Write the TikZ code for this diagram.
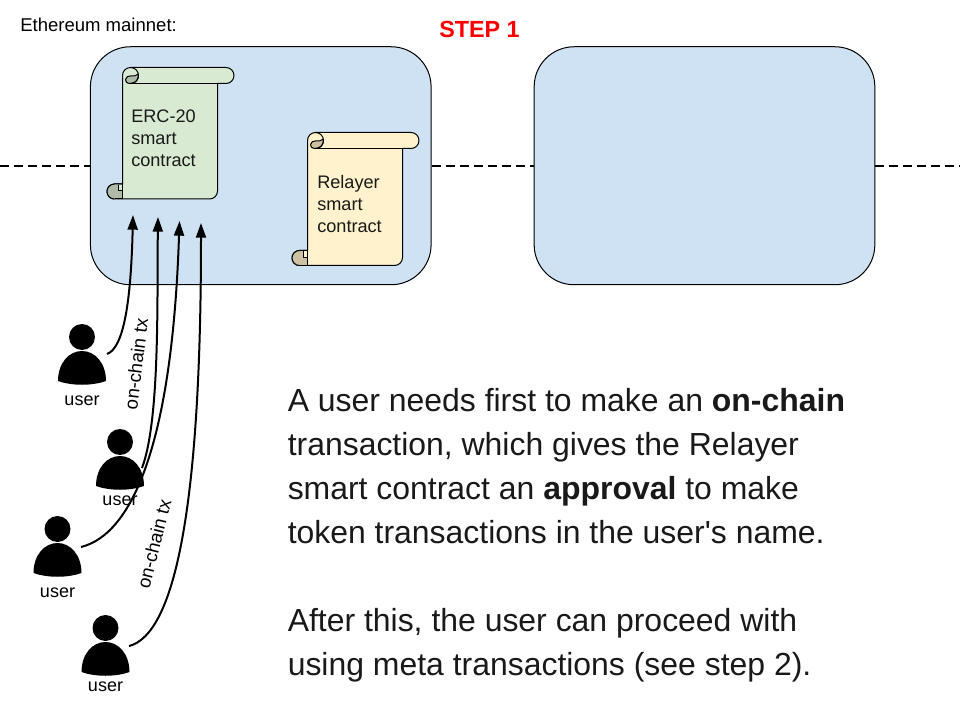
\documentclass[tikz,border=0pt]{standalone}
\usepackage{fontspec}
\setmainfont{Liberation Sans}
\newfontfamily\straightfont{Liberation Sans}
\usetikzlibrary{arrows.meta}
\definecolor{panel}{HTML}{CFE2F3}
\definecolor{ercfill}{HTML}{D9EAD3}
\definecolor{ercdark}{HTML}{AEBBA9}
\definecolor{relfill}{HTML}{FFF2CC}
\definecolor{reldark}{HTML}{CCC2A3}
\tikzset{
  panelbox/.style={draw=black,fill=panel,line width=0.75pt,rounded corners=30pt},
  scrollline/.style={draw=black,line width=0.75pt,line join=round},
  scrolltext/.style={font=\fontsize{13.6pt}{16.5pt}\selectfont,align=left,anchor=north west,inner sep=0pt,text=black!90},
  userlabel/.style={font=\fontsize{13.5pt}{15pt}\selectfont,inner sep=0pt,anchor=base},
  txlabel/.style={font=\fontsize{14pt}{15pt}\selectfont,inner sep=0pt},
  link/.style={draw=black,line width=1.5pt,-{Triangle[length=11pt,width=7.5pt]}},
  ethline/.style={draw=black,line width=1.5pt,dash pattern=on 6.75pt off 3.75pt},
}
% #1 left, #2 top, #3 bottom, #4 fill, #5 dark
\newcommand{\scrollshape}[5]{%
  \pgfmathsetmacro{\Lx}{#1}\pgfmathsetmacro{\Tx}{#2}\pgfmathsetmacro{\Bx}{#3}
  \path[scrollline,fill=#4]
    (\Lx+8,\Tx) -- (\Lx+103.5,\Tx) arc[start angle=-90,end angle=90,radius=8]
    -- (\Lx+95,\Tx+16) -- (\Lx+95,\Bx-8) arc[start angle=0,end angle=90,radius=8]
    -- (\Lx-8,\Bx) arc[start angle=90,end angle=270,radius=7.5]
    -- (\Lx,\Bx-15) -- (\Lx,\Tx+8) arc[start angle=180,end angle=270,radius=8] -- cycle;
  % top curl
  \path[scrollline,fill=#5] (\Lx+8,\Tx+16)
    .. controls (\Lx+4,\Tx+16) and (\Lx+2.5,\Tx+13.5) .. (\Lx+3,\Tx+12)
    .. controls (\Lx+3.5,\Tx+9) and (\Lx+6,\Tx+8.5) .. (\Lx+8,\Tx+8.5)
    .. controls (\Lx+11,\Tx+8.5) and (\Lx+14,\Tx+8.5) .. (\Lx+16,\Tx+6.5)
    .. controls (\Lx+16.5,\Tx+12) and (\Lx+13,\Tx+16) .. (\Lx+8,\Tx+16) -- cycle;
  \path[scrollline] (\Lx+8,\Tx) arc[start angle=-90,end angle=90,radius=8];
  \path[scrollline] (\Lx+8,\Tx+16) -- (\Lx+95,\Tx+16);
  % bottom curl
  \path[fill=#5] (\Lx,\Bx) -- (\Lx-8,\Bx) arc[start angle=90,end angle=270,radius=7.5]
    -- (\Lx-4.5,\Bx-15) -- (\Lx-4.5,\Bx-8) -- (\Lx,\Bx-8) -- cycle;
  \path[scrollline] (\Lx-8,\Bx) arc[start angle=90,end angle=270,radius=7.5] -- (\Lx,\Bx-15);
  \path[scrollline] (\Lx-4.5,\Bx-14) -- (\Lx-4.5,\Bx-8) -- (\Lx,\Bx-8);
  \path[scrollline] (\Lx,\Bx-15) -- (\Lx,\Bx) -- (\Lx-8,\Bx);
}
% #1 head x, #2 head y, #3 label baseline y, #4 label node name
\newcommand{\person}[4]{%
  \fill[black] (#1,#2) circle[radius=13];
  \fill[black] (#1-24,#2+44) .. controls (#1-24,#2+26) and (#1-13,#2+14) .. (#1,#2+14)
    .. controls (#1+13,#2+14) and (#1+24,#2+26) .. (#1+24,#2+44)
    .. controls (#1+10,#2+49) and (#1-10,#2+49) .. (#1-24,#2+44) -- cycle;
  \node[userlabel] (#4) at (#1,#3) {user};
}
\begin{document}
\begin{tikzpicture}[x=0.75pt,y=-0.75pt]
\useasboundingbox (0,0) rectangle (960,720);
\coordinate (wl) at (0,165.75);
\coordinate (wr) at (960,165.75);
\node[panelbox,minimum width=255.5pt,minimum height=178.5pt,inner sep=0pt] (chainA) at (260.75,165.75) {};
\node[panelbox,minimum width=255.5pt,minimum height=178.5pt,inner sep=0pt] (chainB) at (704.5,165.75) {};
\draw[ethline] (wl) -- (chainA.west);
\draw[ethline] (chainA.east) -- (chainB.west);
\draw[ethline] (chainB.east) -- (wr);
\node[font=\fontsize{13.9pt}{14pt}\selectfont,anchor=base west,inner sep=0pt] (net) at (20,32) {Ethereum mainnet:};
\node[font=\fontsize{17.5pt}{20pt}\bfseries\selectfont,text=red,anchor=base west,inner sep=0pt] (stepone) at (439,38) {STEP 1};
\scrollshape{122.5}{67.5}{199}{ercfill}{ercdark}
\scrollshape{307.5}{132.5}{265.5}{relfill}{reldark}
\node[scrolltext] (erc) at (131,109.5) {ERC-20\\smart\\contract};
\node[scrolltext] (rel) at (317,175) {Relayer\\smart\\contract};
\person{82}{337}{405}{ua}
\person{120}{442}{505}{ub}
\person{57.5}{529}{597}{uc}
\person{105.5}{628}{691}{ud}
\coordinate (sa) at (107,354);
\coordinate (sb) at (142,468);
\coordinate (sc) at (81,547);
\coordinate (sd) at (129,646);
\coordinate (ea) at (133,215);
\coordinate (eb) at (158,217);
\coordinate (ec) at (179.5,221);
\coordinate (ed) at (201,223);
\draw[link] (sa) .. controls (124,348) and (131,300) .. (ea);
\draw[link] (sb) .. controls (160,420) and (157,300) .. (eb);
\draw[link] (sc) .. controls (130,535) and (172,450) .. (ec);
\draw[link] (sd) .. controls (192,630) and (201,400) .. (ed);
\node[txlabel,rotate=83] (txa) at (136,364) {on-chain tx};
\node[txlabel,rotate=76] (txb) at (154,544) {on-chain tx};
\node[font=\fontsize{23.95pt}{33pt}\selectfont,align=left,anchor=north west,inner sep=0pt,text=black!90] (body) at (287.5,388) {A user needs first to make an \textbf{on-chain}\\transaction, which gives the Relayer\\smart contract an \textbf{approval} to make\\token transactions in the user{\straightfont '}s name.\\[33pt]After this, the user can proceed with\\using meta transactions (see step 2).};
\end{tikzpicture}
\end{document}
